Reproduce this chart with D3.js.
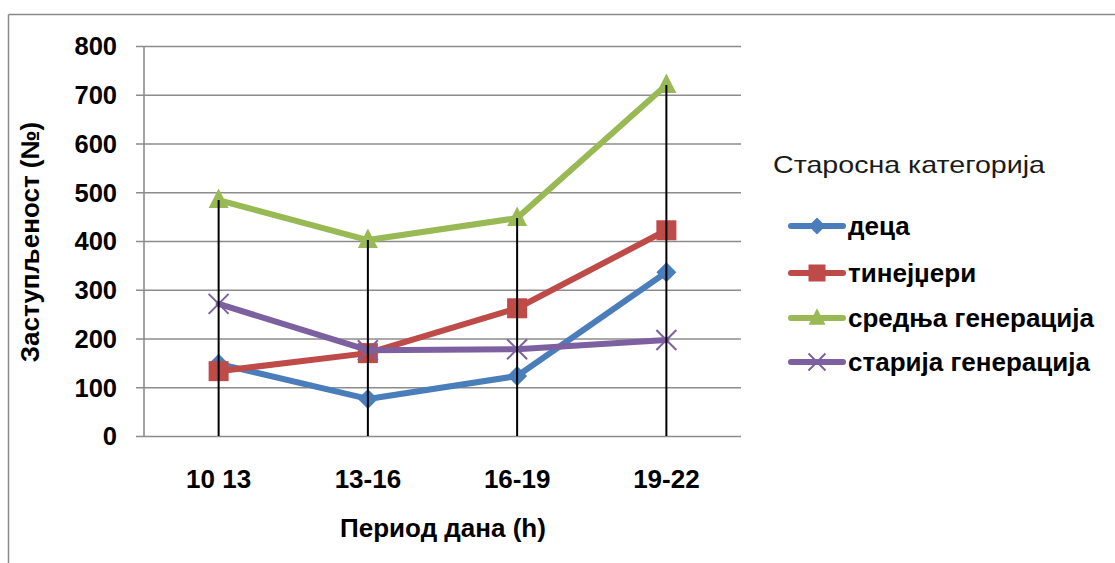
<!DOCTYPE html>
<html>
<head>
<meta charset="utf-8">
<script src="https://cdn.jsdelivr.net/npm/d3@7"></script>
<style>
  html, body { margin: 0; padding: 0; background: #fff; }
  svg { display: block; font-family: "Liberation Sans", Arial, sans-serif; }
</style>
</head>
<body>
<svg id="chart" width="1115" height="563"></svg>
<script>
// Periods of the day and head counts per age group
const categories = ["10 13", "13-16", "16-19", "19-22"];
const seriesNames = ["деца", "тинејџери", "средња генерација", "старија генерација"];
const deca = [148, 76, 123, 336];
const tinejdzeri = [133, 170, 262, 422];
const srednja = [484, 402, 447, 720];
const starija = [271, 176, 178, 197];
const yTicks = [0, 100, 200, 300, 400, 500, 600, 700, 800];

const colors = ["#4A7EBB", "#BE4B48", "#98B954", "#7D60A0"];
const symbols = ["diamond", "square", "triangle", "cross"];
const seriesValues = [deca, tinejdzeri, srednja, starija];

const FONT = 26;
const svg = d3.select("#chart");

// outer chart frame (top and left edges)
svg.append("line").attr("x1", 8.5).attr("x2", 1115).attr("y1", 14.5).attr("y2", 14.5)
  .attr("stroke", "#8a8a8a").attr("stroke-width", 1.5);
svg.append("line").attr("x1", 8.5).attr("x2", 8.5).attr("y1", 14.5).attr("y2", 563)
  .attr("stroke", "#8a8a8a").attr("stroke-width", 1.5);

const x = d3.scaleBand().domain(categories).range([144, 741]).padding(0);
const y = d3.scaleLinear().domain([0, 800]).range([436, 46]);
const cx = c => x(c) + x.bandwidth() / 2;

// horizontal gridlines with tick stubs
const yAxis = d3.axisLeft(y).tickValues(yTicks).tickSize(-(741 - 144)).tickSizeOuter(0).tickFormat("");
const gy = svg.append("g").attr("transform", "translate(144,0)").call(yAxis);
gy.select(".domain").remove();
gy.selectAll(".tick line").attr("stroke", "#8c8c8c").attr("stroke-width", 1.6).attr("x1", -8);
// vertical axis line
svg.append("line").attr("x1", 144).attr("x2", 144).attr("y1", y(800)).attr("y2", y(0))
  .attr("stroke", "#8c8c8c").attr("stroke-width", 1.6);

// y tick labels
svg.append("g").selectAll("text").data(yTicks).join("text")
  .attr("x", 117).attr("y", d => y(d) + 9.3)
  .attr("text-anchor", "end").attr("font-size", 25.5).attr("font-weight", "bold").attr("fill", "#000")
  .text(d => d);

// x tick labels
svg.append("g").selectAll("text").data(categories).join("text")
  .attr("x", d => cx(d)).attr("y", 487.5)
  .attr("text-anchor", "middle").attr("font-size", FONT).attr("font-weight", "bold").attr("fill", "#000")
  .text(d => d);

// axis titles
svg.append("text").attr("x", 443).attr("y", 537).attr("text-anchor", "middle")
  .attr("font-size", FONT).attr("font-weight", "bold").text("Период дана (h)");
svg.append("text").attr("transform", "translate(39,242) rotate(-90)").attr("text-anchor", "middle")
  .attr("font-size", FONT).attr("font-weight", "bold").text("Заступљеност (№)");

function drawMarker(g, kind, color, px, py, s) {
  if (kind === "diamond") {
    g.append("path").attr("d", `M${px},${py - s}L${px + s},${py}L${px},${py + s}L${px - s},${py}Z`)
      .attr("fill", color);
  } else if (kind === "square") {
    g.append("rect").attr("x", px - s).attr("y", py - s).attr("width", 2 * s).attr("height", 2 * s)
      .attr("fill", color);
  } else if (kind === "triangle") {
    g.append("path").attr("d", `M${px},${py - s * 1.15}L${px + s},${py + s * 0.8}L${px - s},${py + s * 0.8}Z`)
      .attr("fill", color);
  } else {
    g.append("path").attr("d", `M${px - s},${py - s}L${px + s},${py + s}M${px - s},${py + s}L${px + s},${py - s}`)
      .attr("stroke", color).attr("stroke-width", 2).attr("fill", "none");
  }
}
const markerSize = [10, 10, 10, 10];

// series lines and markers
const line = d3.line().x((d, i) => cx(categories[i])).y(d => y(d));
seriesValues.forEach((vals, si) => {
  const g = svg.append("g");
  g.append("path").datum(vals).attr("d", line)
    .attr("fill", "none").attr("stroke", colors[si]).attr("stroke-width", 6)
    .attr("stroke-linejoin", "round").attr("stroke-linecap", "round");
  vals.forEach((v, i) => drawMarker(g, symbols[si], colors[si], cx(categories[i]), y(v), markerSize[si]));
});

// drop lines from the highest value down to the category axis
const maxima = categories.map((c, i) => d3.max(seriesValues, s => s[i]));
svg.append("g").selectAll("line").data(categories).join("line")
  .attr("x1", d => cx(d)).attr("x2", d => cx(d))
  .attr("y1", (d, i) => y(maxima[i])).attr("y2", y(0))
  .attr("stroke", "#000").attr("stroke-width", 2);

// legend
svg.append("text").attr("x", 773).attr("y", 173).attr("font-size", 24).attr("fill", "#1a1a1a")
  .attr("textLength", 272).attr("lengthAdjust", "spacingAndGlyphs")
  .text("Старосна категорија");
const legendY = [226, 273, 318, 362];
seriesNames.forEach((name, si) => {
  const g = svg.append("g");
  const ly = legendY[si];
  g.append("line").attr("x1", 791).attr("x2", 843).attr("y1", ly).attr("y2", ly)
    .attr("stroke", colors[si]).attr("stroke-width", 6).attr("stroke-linecap", "round");
  drawMarker(g, symbols[si], colors[si], 817, ly, markerSize[si] * 0.85);
  g.append("text").attr("x", 848).attr("y", ly + 9.3).attr("font-size", FONT).attr("font-weight", "bold")
    .attr("fill", "#000").text(name);
});
</script>
</body>
</html>
